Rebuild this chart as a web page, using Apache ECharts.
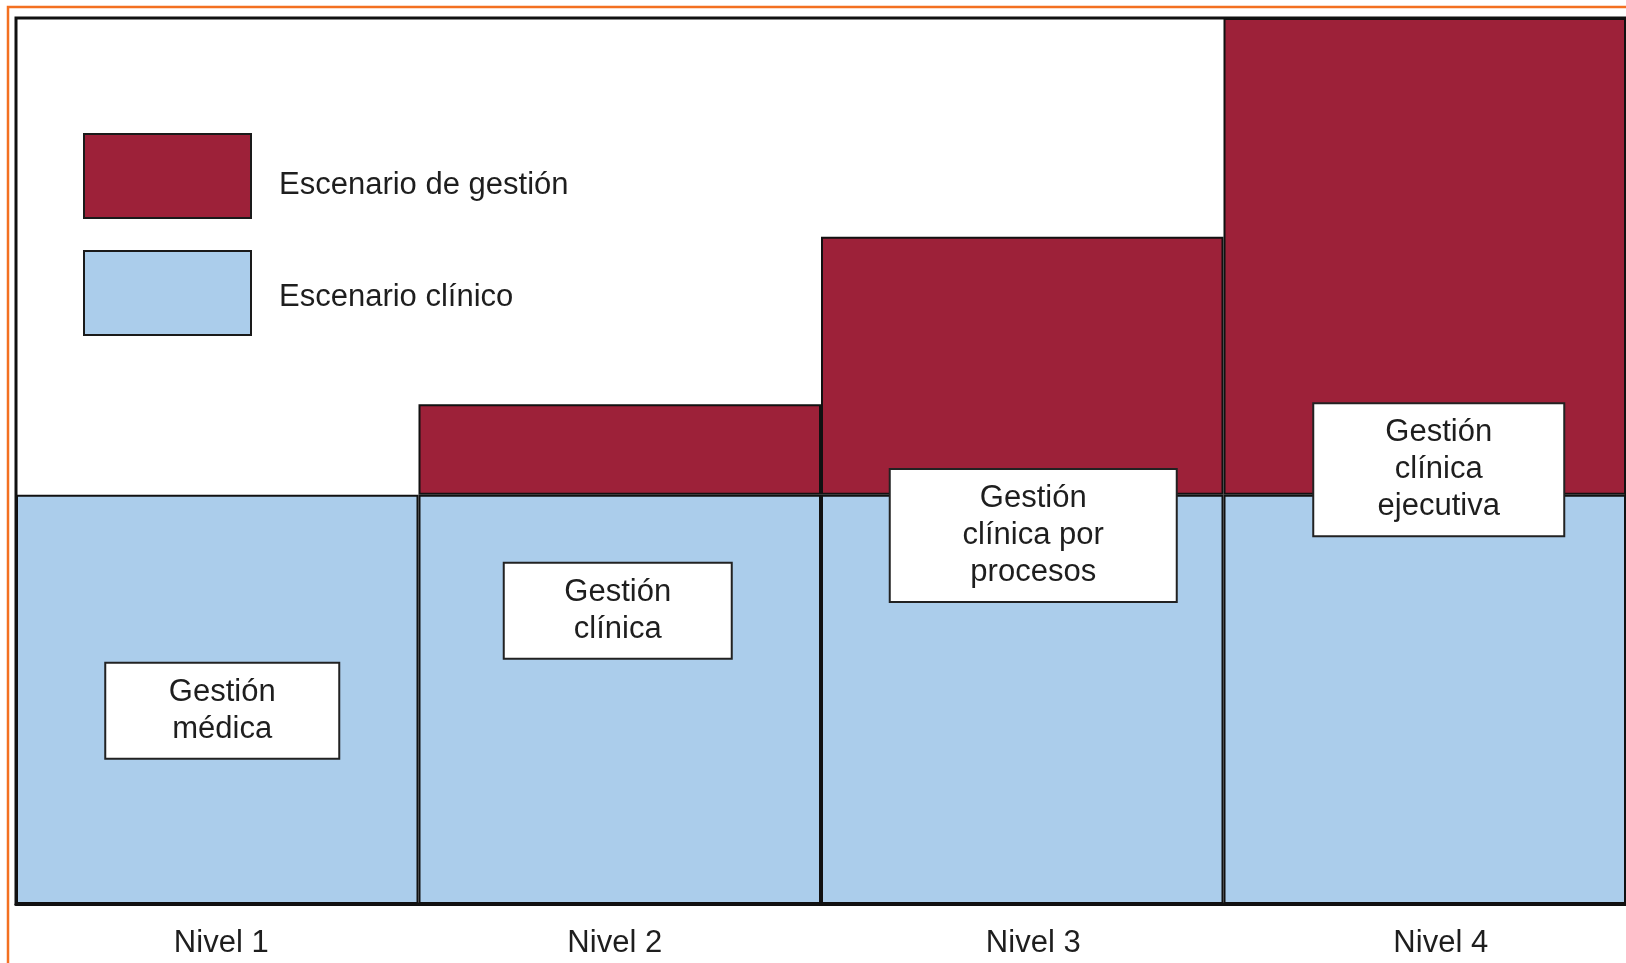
<!DOCTYPE html>
<html>
<head>
<meta charset="utf-8">
<script src="https://cdn.jsdelivr.net/npm/echarts@6/dist/echarts.min.js"></script>
<style>
html,body{margin:0;padding:0;background:#fff;}
#chart{width:1626px;height:963px;}
</style>
</head>
<body>
<div id="chart"></div>
<script>
// ---- data ----
const categories = ['Nivel 1', 'Nivel 2', 'Nivel 3', 'Nivel 4'];
const seriesNames = ['Escenario de gestión', 'Escenario clínico'];
const clinicalValues = [46.2, 46.2, 46.2, 46.2];
const managementValues = [null, 10.2, 29.1, 53.8];
const boxTexts = ['Gestión\nmédica', 'Gestión\nclínica', 'Gestión\nclínica por\nprocesos', 'Gestión\nclínica\nejecutiva'];
const boxLevels = [21.8, 33.1, 41.6, 49.0];

// ---- layout / style ----
const boxWidths = [232, 226, 285, 249];
const boxOffsets = [5, -2, 11, 14];
const labelPads = [[0, 0, 0, 8], [0, 10, 0, 0], [0, 0, 0, 22], [0, 0, 0, 32]];
const legendTops = [128, 245];
const legendPadTop = [19, 8];
const FONT = "'Liberation Sans', Arial, sans-serif";
const RED = '#9d2139';
const BLUE = '#abcdeb';
const TXT = '#1e1e1e';
const FS = 31;

const chart = echarts.init(document.getElementById('chart'));
chart.setOption({
  animation: false,
  backgroundColor: '#fff',
  graphic: [{
    type: 'rect',
    shape: {x: 8, y: 7, width: 1700, height: 1000},
    style: {fill: 'none', stroke: '#f37021', lineWidth: 2.5},
    z: 100
  }],
  grid: {
    left: 16, right: -4, top: 18, bottom: 59,
    show: true, borderColor: '#111', borderWidth: 3, backgroundColor: 'transparent', z: 10
  },
  legend: seriesNames.map((n, i) => ({
    data: [n],
    orient: 'vertical',
    left: 78, top: legendTops[i],
    itemWidth: 167, itemHeight: 84,
    icon: 'rect',
    itemStyle: {borderColor: '#1a1a1a', borderWidth: 2},
    formatter: name => '{t|' + name + '}',
    textStyle: {
      fontSize: FS, color: TXT, fontFamily: FONT,
      rich: {t: {fontSize: FS, color: TXT, fontFamily: FONT, padding: [legendPadTop[i], 0, 0, 23]}}
    },
    selectedMode: false
  })),
  xAxis: {
    type: 'category',
    data: categories.map((c, i) => ({value: c, textStyle: {padding: labelPads[i]}})),
    axisLine: {show: true, lineStyle: {color: '#111', width: 3}},
    axisTick: {show: false},
    axisLabel: {fontSize: FS, color: TXT, fontFamily: FONT, margin: 24}
  },
  yAxis: {
    type: 'value', min: 0, max: 100,
    show: false,
    splitLine: {show: false}
  },
  series: [
    {
      name: seriesNames[1], type: 'bar', stack: 'total',
      data: clinicalValues,
      barCategoryGap: '0%',
      itemStyle: {color: BLUE, borderColor: '#111', borderWidth: 2}
    },
    {
      name: seriesNames[0], type: 'bar', stack: 'total',
      data: managementValues,
      barCategoryGap: '0%',
      itemStyle: {color: RED, borderColor: '#111', borderWidth: 2}
    },
    {
      name: 'boxes', type: 'scatter',
      symbolSize: 0, z: 20,
      itemStyle: {opacity: 1},
      data: categories.map((c, i) => ({
        value: [c, boxLevels[i]],
        label: {
          formatter: boxTexts[i],
          width: boxWidths[i],
          offset: [boxOffsets[i], 0]
        }
      })),
      label: {
        show: true, position: 'inside',
        fontSize: FS, lineHeight: 37, color: TXT, fontFamily: FONT,
        align: 'center', verticalAlign: 'middle',
        backgroundColor: '#fff', borderColor: '#222', borderWidth: 2,
        padding: [10, 0]
      },
      emphasis: {disabled: true}
    }
  ]
});
</script>
</body>
</html>
